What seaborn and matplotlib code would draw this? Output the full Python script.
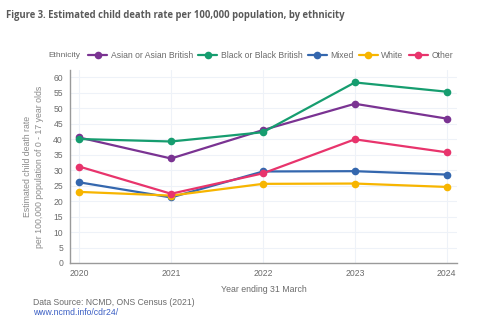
import matplotlib
matplotlib.use("Agg")
import matplotlib.pyplot as plt
import seaborn as sns
import pandas as pd

years = [2020, 2021, 2022, 2023, 2024]
ethnicities = ["Asian or Asian British", "Black or Black British", "Mixed", "White", "Other"]
asian = [40.6, 33.8, 43.0, 51.5, 46.7]
black = [40.1, 39.3, 42.3, 58.4, 55.4]
mixed = [26.1, 21.2, 29.6, 29.7, 28.6]
white = [23.0, 21.8, 25.6, 25.7, 24.6]
other = [31.2, 22.4, 29.0, 40.0, 35.8]
colors = ["#7a3392", "#169d6f", "#3467ae", "#f7b500", "#e8346c"]
y_ticks = list(range(0, 61, 5))

series = [asian, black, mixed, white, other]
df = pd.DataFrame(
    [(y, e, v) for e, vals in zip(ethnicities, series) for y, v in zip(years, vals)],
    columns=["Year", "Ethnicity", "Rate"],
)

sns.set_theme(style="white")
plt.rcParams["font.family"] = ["Liberation Sans", "DejaVu Sans"]

fig = plt.figure(figsize=(4.8, 3.21), dpi=100)
ax = fig.add_axes([0.1458, 0.1807, 0.806, 0.601])

sns.lineplot(
    data=df, x="Year", y="Rate", hue="Ethnicity", hue_order=ethnicities,
    palette=colors, marker="o", markersize=5.5, markeredgewidth=0,
    linewidth=1.6, ax=ax, legend=False,
)

ax.set_xlim(2019.9, 2024.11)
ax.set_ylim(0, 62.4)
ax.set_xticks(years)
ax.set_xticklabels([str(y) for y in years])
ax.set_yticks(y_ticks)
ax.grid(True, color="#eef2f8", linewidth=0.8)
ax.set_axisbelow(True)
for s in ["top", "right"]:
    ax.spines[s].set_visible(False)
for s in ["left", "bottom"]:
    ax.spines[s].set_color("#9a9a9a")
    ax.spines[s].set_linewidth(1.0)
ax.tick_params(axis="both", colors="#9a9a9a", labelcolor="#6b6b6b",
               labelsize=6.2, length=3, width=0.8, direction="out", pad=2)
ax.tick_params(axis="x", pad=1.5)

ax.set_xlabel("Year ending 31 March", fontsize=6.3, color="#6b6b6b", labelpad=5)
ax.set_ylabel("Estimated child death rate\nper 100,000 population of 0 - 17 year olds",
              fontsize=6.3, color="#8a8a8a", labelpad=6.5, linespacing=1.5)

fig.text(0.012, 0.953, "Figure 3. Estimated child death rate per 100,000 population, by ethnicity",
         fontsize=6.85, fontweight="bold", color="#5a5a5a",
         family=["Open Sans", "DejaVu Sans"], va="center")

# legend row
fig.text(0.100, 0.826, "Ethnicity", fontsize=6.0, color="#6b6b6b", va="center")
handles = [
    plt.Line2D([0], [0], color=c, linewidth=1.6, marker="o", markersize=5.5,
               markeredgewidth=0)
    for c in colors
]
leg = fig.legend(handles, ethnicities, loc="center left", bbox_to_anchor=(0.184, 0.826),
                 ncol=5, frameon=False, fontsize=6.2, handlelength=2.2,
                 handletextpad=0.4, columnspacing=0.62, borderaxespad=0, borderpad=0)
for t in leg.get_texts():
    t.set_color("#6b6b6b")

fig.text(0.069, 0.057, "Data Source: NCMD, ONS Census (2021)", fontsize=6.2,
         color="#6b6b6b", va="center")
fig.text(0.069, 0.026, "www.ncmd.info/cdr24/", fontsize=6.2, color="#3b5fc4", va="center")

fig.savefig("out.png", dpi=100)
